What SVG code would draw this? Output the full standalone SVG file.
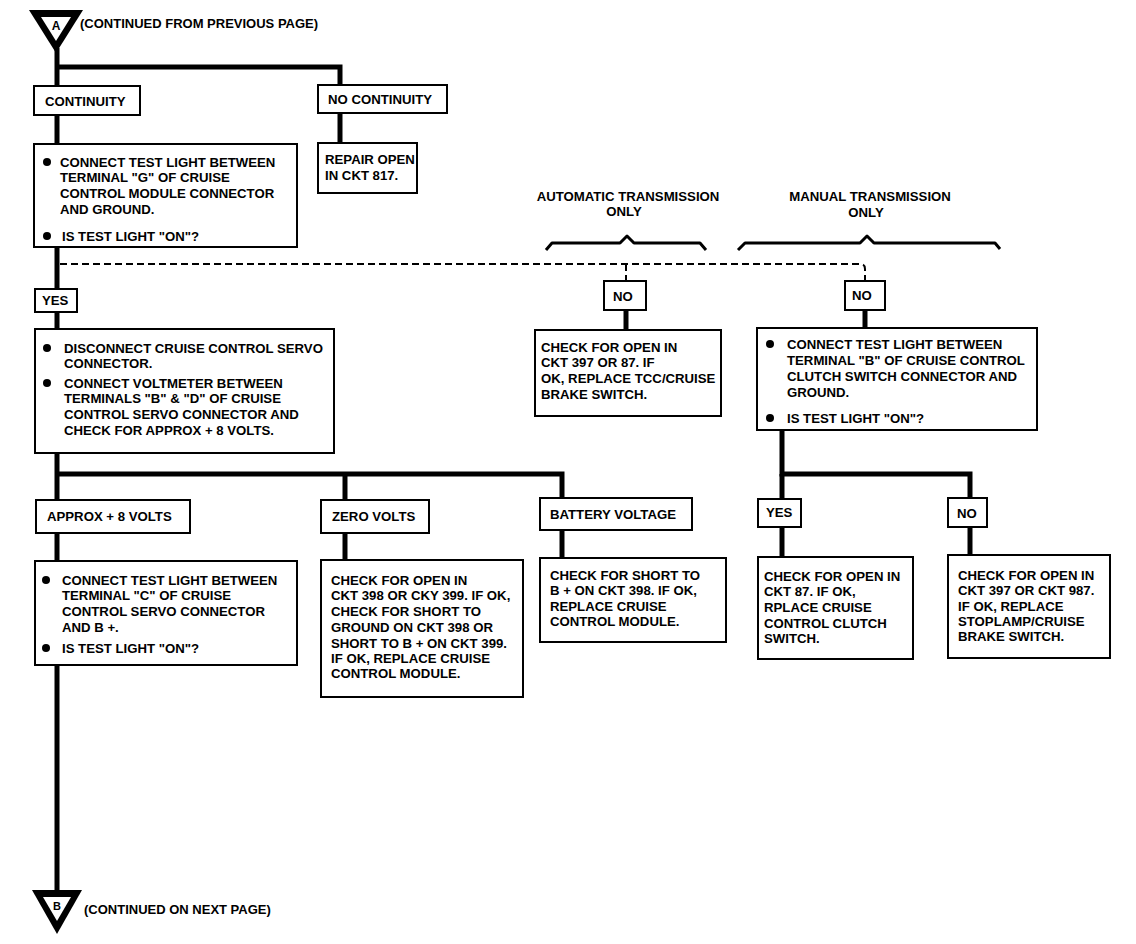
<svg xmlns="http://www.w3.org/2000/svg" width="1136" height="944" viewBox="0 0 1136 944">
<style>
text{font-family:"Liberation Sans",Arial,sans-serif;font-weight:bold;font-size:13.2px;fill:#000}
.box{fill:#fff;stroke:#000;stroke-width:2}
.con{fill:none;stroke:#000;stroke-width:5}
.dash{fill:none;stroke:#000;stroke-width:2;stroke-dasharray:7 4}
.brace{fill:none;stroke:#000;stroke-width:3;stroke-linejoin:round}
.mid{text-anchor:middle}
.cont{font-size:13px}
</style>
<rect width="1136" height="944" fill="#fff"/>
<g id="connectors">
<path class="con" d="M57,48 V893"/>
<path class="con" d="M57,67 H340 V85"/>
<path class="con" d="M340,113 V143"/>
<path class="con" d="M57,474 H562 V498"/>
<path class="con" d="M345,474 V500"/>
<path class="con" d="M345,533 V560"/>
<path class="con" d="M562,530 V558"/>
<path class="con" d="M626,310 V330"/>
<path class="con" d="M865,310 V328"/>
<path class="con" d="M782,430 V474 H970 V498"/>
<path class="con" d="M782,474 V500"/>
<path class="con" d="M782,527 V557"/>
<path class="con" d="M970,527 V555"/>
<path class="dash" d="M60,264 H860 Q865,264 865,269 V281"/>
<path class="dash" d="M626,264 V281"/>
</g>
<g id="startA">
<polygon points="29,10 83,10 56,53" fill="#000"/>
<polygon points="41,17 71,17 56,41" fill="#fff"/>
<text x="56" y="30" class="mid" style="font-size:12px">A</text>
<text x="80" y="28" class="cont">(CONTINUED FROM PREVIOUS PAGE)</text>
</g>
<g id="continuity">
<rect class="box" x="34" y="86" width="106" height="29"/>
<text x="45" y="106">CONTINUITY</text>
</g>
<g id="nocontinuity">
<rect class="box" x="318" y="85" width="129" height="28"/>
<text x="328" y="104">NO CONTINUITY</text>
</g>
<g id="repair817">
<rect class="box" x="318" y="143" width="99" height="50"/>
<text x="325" y="164">REPAIR OPEN</text>
<text x="325" y="180">IN CKT 817.</text>
</g>
<g id="testG">
<rect class="box" x="34" y="144" width="263" height="103"/>
<circle cx="47" cy="162" r="4"/>
<text x="60" y="167">CONNECT TEST LIGHT BETWEEN</text>
<text x="60" y="182">TERMINAL "G" OF CRUISE</text>
<text x="60" y="198">CONTROL MODULE CONNECTOR</text>
<text x="60" y="214">AND GROUND.</text>
<circle cx="47" cy="236" r="4"/>
<text x="62" y="241">IS TEST LIGHT "ON"?</text>
</g>
<g id="autolabel">
<text x="628" y="201" class="mid">AUTOMATIC TRANSMISSION</text>
<text x="624" y="216" class="mid">ONLY</text>
<path class="brace" d="M546,250 L552,243 H620 L627,236 L634,243 H700 L706,250"/>
</g>
<g id="manuallabel">
<text x="870" y="201" class="mid">MANUAL TRANSMISSION</text>
<text x="866" y="217" class="mid">ONLY</text>
<path class="brace" d="M738,250 L745,243 H860 L867,236 L874,243 H995 L1000,249"/>
</g>
<g id="yes1">
<rect class="box" x="35" y="289" width="42" height="23"/>
<text x="42" y="305">YES</text>
</g>
<g id="servo">
<rect class="box" x="35" y="329" width="299" height="124"/>
<circle cx="47" cy="348" r="4"/>
<text x="64" y="353">DISCONNECT CRUISE CONTROL SERVO</text>
<text x="64" y="368">CONNECTOR.</text>
<circle cx="47" cy="383" r="4"/>
<text x="64" y="388">CONNECT VOLTMETER BETWEEN</text>
<text x="64" y="403">TERMINALS "B" &amp; "D" OF CRUISE</text>
<text x="64" y="419">CONTROL SERVO CONNECTOR AND</text>
<text x="64" y="435">CHECK FOR APPROX + 8 VOLTS.</text>
</g>
<g id="noauto">
<rect class="box" x="604" y="281" width="42" height="29"/>
<text x="613" y="301">NO</text>
</g>
<g id="nomanual">
<rect class="box" x="845" y="281" width="40" height="29"/>
<text x="852" y="300">NO</text>
</g>
<g id="check397">
<rect class="box" x="535" y="330" width="186" height="86"/>
<text x="541" y="352">CHECK FOR OPEN IN</text>
<text x="541" y="367">CKT 397 OR 87. IF</text>
<text x="541" y="383">OK, REPLACE TCC/CRUISE</text>
<text x="541" y="399">BRAKE SWITCH.</text>
</g>
<g id="testB">
<rect class="box" x="757" y="328" width="280" height="102"/>
<circle cx="770" cy="344" r="4"/>
<text x="787" y="349">CONNECT TEST LIGHT BETWEEN</text>
<text x="787" y="365">TERMINAL "B" OF CRUISE CONTROL</text>
<text x="787" y="381">CLUTCH SWITCH CONNECTOR AND</text>
<text x="787" y="397">GROUND.</text>
<circle cx="770" cy="418" r="4"/>
<text x="787" y="423">IS TEST LIGHT "ON"?</text>
</g>
<g id="approx">
<rect class="box" x="36" y="500" width="154" height="33"/>
<text x="47" y="521">APPROX + 8 VOLTS</text>
</g>
<g id="zero">
<rect class="box" x="321" y="500" width="108" height="33"/>
<text x="332" y="521">ZERO VOLTS</text>
</g>
<g id="battery">
<rect class="box" x="540" y="498" width="152" height="32"/>
<text x="550" y="519">BATTERY VOLTAGE</text>
</g>
<g id="yes2">
<rect class="box" x="758" y="499" width="43" height="28"/>
<text x="766" y="517">YES</text>
</g>
<g id="no2">
<rect class="box" x="948" y="498" width="39" height="29"/>
<text x="957" y="518">NO</text>
</g>
<g id="testC">
<rect class="box" x="35" y="561" width="262" height="104"/>
<circle cx="46" cy="580" r="4"/>
<text x="62" y="585">CONNECT TEST LIGHT BETWEEN</text>
<text x="62" y="600">TERMINAL "C" OF CRUISE</text>
<text x="62" y="616">CONTROL SERVO CONNECTOR</text>
<text x="62" y="632">AND B +.</text>
<circle cx="46" cy="648" r="4"/>
<text x="62" y="653">IS TEST LIGHT "ON"?</text>
</g>
<g id="check398">
<rect class="box" x="321" y="560" width="202" height="137"/>
<text x="331" y="585">CHECK FOR OPEN IN</text>
<text x="331" y="600">CKT 398 OR CKY 399. IF OK,</text>
<text x="331" y="616">CHECK FOR SHORT TO</text>
<text x="331" y="632">GROUND ON CKT 398 OR</text>
<text x="331" y="648">SHORT TO B + ON CKT 399.</text>
<text x="331" y="663">IF OK, REPLACE CRUISE</text>
<text x="331" y="678">CONTROL MODULE.</text>
</g>
<g id="short398">
<rect class="box" x="540" y="558" width="186" height="84"/>
<text x="550" y="580">CHECK FOR SHORT TO</text>
<text x="550" y="595">B + ON CKT 398. IF OK,</text>
<text x="550" y="611">REPLACE CRUISE</text>
<text x="550" y="626">CONTROL MODULE.</text>
</g>
<g id="check87">
<rect class="box" x="758" y="557" width="155" height="102"/>
<text x="764" y="581">CHECK FOR OPEN IN</text>
<text x="764" y="596">CKT 87. IF OK,</text>
<text x="764" y="612">RPLACE CRUISE</text>
<text x="764" y="628">CONTROL CLUTCH</text>
<text x="764" y="643">SWITCH.</text>
</g>
<g id="check987">
<rect class="box" x="948" y="555" width="162" height="103"/>
<text x="958" y="580">CHECK FOR OPEN IN</text>
<text x="958" y="595">CKT 397 OR CKT 987.</text>
<text x="958" y="611">IF OK, REPLACE</text>
<text x="958" y="626">STOPLAMP/CRUISE</text>
<text x="958" y="641">BRAKE SWITCH.</text>
</g>
<g id="endB">
<polygon points="32,890 82,890 57,934" fill="#000"/>
<polygon points="43,897 71,897 57,921" fill="#fff"/>
<text x="57" y="910" class="mid" style="font-size:11px">B</text>
<text x="84" y="914" class="cont">(CONTINUED ON NEXT PAGE)</text>
</g>
</svg>
